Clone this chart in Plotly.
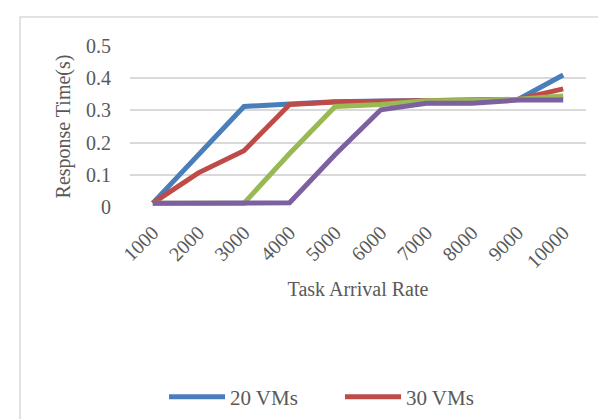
import plotly.graph_objects as go

categories = ["1000", "2000", "3000", "4000", "5000", "6000", "7000", "8000", "9000", "10000"]
vm20 = [0.012, 0.16, 0.312, 0.32, 0.327, 0.329, 0.331, 0.332, 0.333, 0.41]
vm30 = [0.012, 0.106, 0.175, 0.318, 0.326, 0.329, 0.331, 0.332, 0.334, 0.367]
vm40 = [0.012, 0.012, 0.012, 0.166, 0.312, 0.318, 0.33, 0.331, 0.335, 0.345]
vm50 = [0.012, 0.012, 0.012, 0.013, 0.163, 0.302, 0.322, 0.322, 0.332, 0.332]
series_names = ["20 VMs", "30 VMs", "40 VMs", "50 VMs"]
colors = ["#4A7EBB", "#BE4B48", "#98B954", "#7D60A0"]
y_ticks = [0, 0.1, 0.2, 0.3, 0.4, 0.5]
y_ticktext = ["0", "0.1", "0.2", "0.3", "0.4", "0.5"]

FONT = "Liberation Serif, Times New Roman, serif"
TXT = "#595959"

fig = go.Figure()
for i, (name, vals) in enumerate(zip(series_names, [vm20, vm30, vm40, vm50])):
    fig.add_trace(go.Scatter(
        x=categories, y=vals, name=name, mode="lines",
        line=dict(color=colors[i], width=5),
        showlegend=(i < 2),
    ))

W, H = 606, 419
L, R, T, B = 122, 28, 38, 220
pw, ph = W - L - R, H - T - B

def px_x(p):
    return (p - L) / pw

def px_y(p):
    return (H - B - p) / ph

fig.update_layout(
    width=W, height=H,
    margin=dict(l=L, r=R, t=T, b=B, pad=0, autoexpand=False),
    paper_bgcolor="white", plot_bgcolor="white",
    font=dict(family=FONT, size=20, color=TXT),
    xaxis=dict(
        type="category", range=[-0.5, 9.5], showgrid=False, zeroline=False,
        showline=False, tickangle=-45, ticks="", ticklabelstandoff=9,
        tickfont=dict(size=20, color=TXT), automargin=False,
        title=dict(text="Task Arrival Rate", font=dict(size=20, color=TXT), standoff=10),
    ),
    yaxis=dict(
        range=[0, 0.5], tickvals=y_ticks, ticktext=y_ticktext,
        showgrid=True, gridcolor="#D9D9D9", gridwidth=1.5, automargin=False,
        zeroline=False, showline=False, ticks="", ticklabelstandoff=18,
        tickfont=dict(size=20, color=TXT),
        title=dict(text="Response Time(s)", font=dict(size=20, color=TXT), standoff=10),
    ),
    legend=dict(
        orientation="h", x=px_x(156), y=px_y(389), xanchor="left", yanchor="middle",
        font=dict(size=21, color=TXT), itemwidth=56, entrywidth=105, entrywidthmode="pixels",
        bgcolor="rgba(0,0,0,0)",
    ),
    shapes=[dict(
        type="rect", xref="paper", yref="paper",
        x0=px_x(12), x1=px_x(680), y0=px_y(9), y1=px_y(480),
        line=dict(color="#D9D9D9", width=1.5), fillcolor="rgba(0,0,0,0)", layer="below",
    )],
)

fig.write_html("out.html")
